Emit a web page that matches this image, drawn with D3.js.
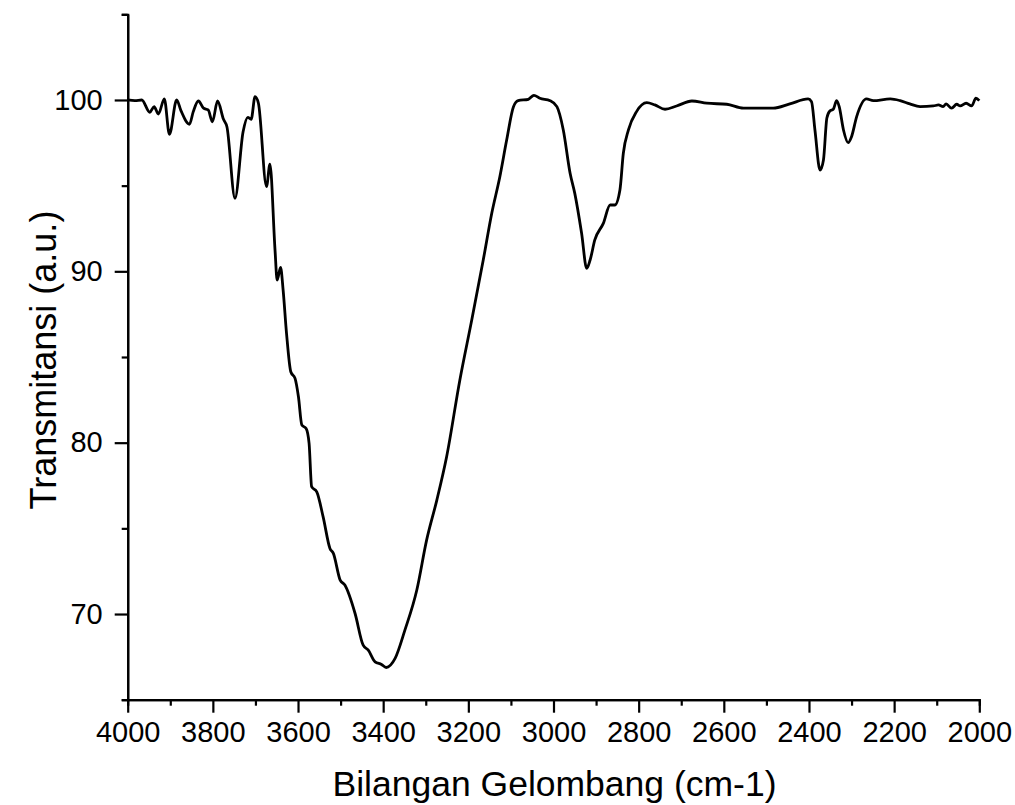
<!DOCTYPE html>
<html>
<head>
<meta charset="utf-8">
<script src="https://cdn.jsdelivr.net/npm/d3@7"></script>
<style>
  body { margin: 0; background: #fff; }
  text { font-family: "Liberation Sans", Arial, sans-serif; fill: #000; }
</style>
</head>
<body>
<div id="chart"></div>
<script>
// spectrum (wavenumber cm-1, transmittance a.u.)
var wavenumber = [4000, 3983, 3967, 3948, 3938, 3928, 3914, 3902, 3885, 3875,
    3855, 3846, 3834, 3822, 3811, 3801, 3789, 3775, 3767, 3748,
    3729, 3718, 3710, 3701, 3693, 3674, 3666, 3654, 3649, 3641,
    3635, 3627, 3617, 3607, 3599, 3591, 3581, 3574, 3568, 3556,
    3541, 3525, 3517, 3501, 3490, 3466, 3447, 3435, 3419, 3404,
    3393, 3372, 3349, 3321, 3298, 3274, 3251, 3220, 3192, 3165,
    3145, 3126, 3110, 3094, 3083, 3059, 3046, 3032, 3008, 2992,
    2977, 2961, 2950, 2934, 2922, 2914, 2903, 2883, 2867, 2856,
    2844, 2836, 2824, 2805, 2781, 2762, 2738, 2711, 2675, 2640,
    2593, 2554, 2484, 2445, 2402, 2394, 2386, 2374, 2366, 2358,
    2351, 2343, 2335, 2329, 2319, 2308, 2300, 2288, 2265, 2249,
    2209, 2186, 2163, 2139, 2108, 2096, 2085, 2078, 2065, 2053,
    2045, 2031, 2018, 2008, 2000];
var transmittance = [100.0, 99.96, 100.0, 99.28, 99.61, 99.18, 100.06, 98.0, 100.0, 99.38,
    98.58, 99.32, 99.94, 99.52, 99.42, 98.73, 99.94, 98.87, 98.44, 94.26,
    98.15, 98.99, 98.87, 100.19, 99.81, 94.94, 96.26, 91.24, 89.49, 90.23,
    88.91, 86.38, 84.14, 83.75, 82.68, 81.03, 80.83, 79.96, 77.43, 77.13,
    75.67, 73.83, 73.54, 71.98, 71.69, 70.03, 68.18, 67.89, 67.21, 67.06,
    66.88, 67.41, 69.06, 71.40, 74.31, 76.65, 79.18, 83.65, 87.16, 90.66,
    93.39, 95.52, 97.66, 99.61, 99.96, 100.04, 100.27, 100.10, 99.96, 99.61,
    98.25, 95.72, 94.55, 92.22, 90.17, 90.66, 91.83, 92.80, 93.87, 93.87,
    94.75, 96.89, 98.25, 99.32, 99.84, 99.71, 99.46, 99.65, 99.94, 99.81,
    99.75, 99.52, 99.52, 99.77, 100.06, 99.90, 98.25, 95.91, 96.50, 98.95,
    99.36, 99.46, 99.96, 99.61, 98.25, 97.51, 97.86, 99.03, 100.06, 99.96,
    100.06, 99.96, 99.77, 99.61, 99.65, 99.71, 99.61, 99.77, 99.52, 99.75,
    99.65, 99.81, 99.65, 100.10, 99.96];

var xMajorTicks = [4000, 3800, 3600, 3400, 3200, 3000, 2800, 2600, 2400, 2200, 2000];
var xMinorTicks = [3900, 3700, 3500, 3300, 3100, 2900, 2700, 2500, 2300, 2100];
var yMajorTicks = [70, 80, 90, 100];
var yMinorTicks = [65, 75, 85, 95, 105];

var xTitle = 'Bilangan Gelombang (cm-1)';
var yTitle = 'Transmitansi (a.u.)';

var width = 1015, height = 805;
var margin = {top: 14.3, right: 35.7, bottom: 105.3, left: 127.7};
var w = width - margin.left - margin.right;
var h = height - margin.top - margin.bottom;

var svg = d3.select('#chart').append('svg')
    .attr('width', width)
    .attr('height', height);

var g = svg.append('g')
    .attr('transform', 'translate(' + margin.left + ',' + margin.top + ')');

var x = d3.scaleLinear().domain([4000, 2000]).range([0, w]);
var y = d3.scaleLinear().domain([65, 105]).range([h, 0]);

var data = wavenumber.map(function(d, i) { return {w: d, t: transmittance[i]}; });

// minor ticks first, then major axes on top
g.append('g')
    .attr('class', 'axis')
    .attr('transform', 'translate(0,' + h + ')')
    .call(d3.axisBottom(x).tickValues(xMinorTicks).tickSize(6).tickFormat(''));

g.append('g')
    .attr('class', 'axis')
    .call(d3.axisLeft(y).tickValues(yMinorTicks).tickSize(6).tickFormat(''));

var xAxis = g.append('g')
    .attr('class', 'axis')
    .attr('transform', 'translate(0,' + h + ')')
    .call(d3.axisBottom(x).tickValues(xMajorTicks).tickSize(13).tickSizeOuter(0).tickPadding(9).tickFormat(d3.format('d')));

var yAxis = g.append('g')
    .attr('class', 'axis')
    .call(d3.axisLeft(y).tickValues(yMajorTicks).tickSize(13).tickSizeOuter(0).tickPadding(12).tickFormat(d3.format('d')));

g.selectAll('.axis path, .axis line')
    .attr('stroke', '#000')
    .attr('stroke-width', 2.2);

g.selectAll('.axis text')
    .attr('font-family', '"Liberation Sans", Arial, sans-serif')
    .attr('font-size', 29)
    .attr('fill', '#000');

// spectrum line
var line = d3.line()
    .x(function(d) { return x(d.w); })
    .y(function(d) { return y(d.t); })
    .curve(d3.curveMonotoneX);

g.append('path')
    .datum(data)
    .attr('fill', 'none')
    .attr('stroke', '#000')
    .attr('stroke-width', 2.8)
    .attr('stroke-linejoin', 'round')
    .attr('d', line);

// axis titles
svg.append('text')
    .attr('x', margin.left + w / 2 + 1)
    .attr('y', 796)
    .attr('text-anchor', 'middle')
    .attr('font-size', 35.5)
    .text(xTitle);

svg.append('text')
    .attr('transform', 'translate(56,' + (margin.top + h / 2 + 3) + ') rotate(-90)')
    .attr('text-anchor', 'middle')
    .attr('font-size', 36)
    .text(yTitle);
</script>
</body>
</html>
